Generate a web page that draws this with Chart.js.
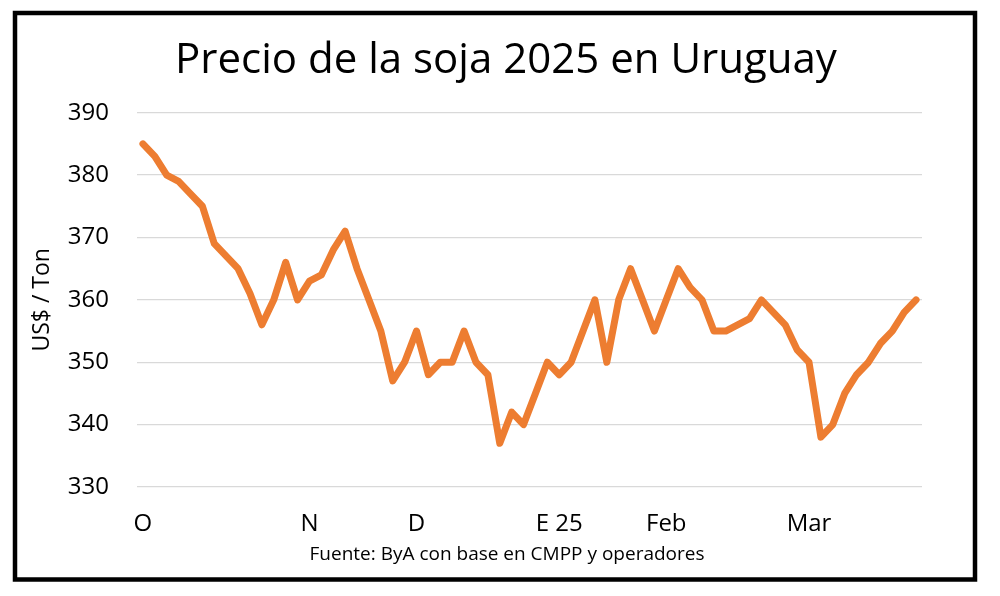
<!DOCTYPE html>
<html lang="es">
<head>
    <meta charset="UTF-8" />
    <title>Precio de la soja 2025 en Uruguay</title>
    <script src="https://cdn.jsdelivr.net/npm/chart.js"></script>
    <style>
        html, body { margin: 0; padding: 0; background: #fff; }
        #wrap { position: relative; width: 1000px; height: 596px; }
    </style>
</head>
<body>
    <div id="wrap"><canvas id="sojaChart"></canvas></div>

    <script>
        const prices = [
            385, 383, 380, 379, 377, 375, 369, 367, 365, 361,
            356, 360, 366, 360, 363, 364, 368, 371, 365, 360,
            355, 347, 350, 355, 348, 350, 350, 355, 350, 348,
            337, 342, 340, 345, 350, 348, 350, 355, 360, 350,
            360, 365, 360, 355, 360, 365, 362, 360, 355, 355,
            356, 357, 360, 358, 356, 352, 350, 338, 340, 345,
            348, 350, 353, 355, 358, 360
        ];
        const monthLabels = ['O', 'N', 'D', 'E 25', 'Feb', 'Mar'];
        const monthStart = [0, 14, 23, 35, 44, 56];
        const yTicks = [330, 340, 350, 360, 370, 380, 390];

        const chartTitle = 'Precio de la soja 2025 en Uruguay';
        const sourceNote = 'Fuente: ByA con base en CMPP y operadores';
        const yTitle = 'US$ / Ton';

        // category labels: blank except where a month starts
        const labels = prices.map((_, i) => {
            const k = monthStart.indexOf(i);
            return k >= 0 ? monthLabels[k] : '';
        });

        const FONT = "'Open Sans', 'DejaVu Sans', sans-serif";

        // title, footnote and frame drawn on the canvas
        const decorations = {
            id: 'decorations',
            afterDraw(chart) {
                const ctx = chart.ctx;
                ctx.save();
                ctx.fillStyle = '#000';
                ctx.textAlign = 'center';
                ctx.textBaseline = 'alphabetic';
                ctx.font = '42px ' + FONT;
                ctx.fillText(chartTitle, 506, 73);
                ctx.font = '19px ' + FONT;
                ctx.fillText(sourceNote, 507, 560);
                ctx.strokeStyle = '#000';
                ctx.lineWidth = 4.5;
                ctx.strokeRect(15, 13, 960, 566.5);
                ctx.restore();
            }
        };

        const ctx = document.getElementById('sojaChart').getContext('2d');
        new Chart(ctx, {
            type: 'line',
            data: {
                labels: labels,
                datasets: [{
                    data: prices,
                    borderColor: '#ED7D31',
                    borderWidth: 7,
                    pointRadius: 0,
                    tension: 0,
                    borderJoinStyle: 'round',
                    borderCapStyle: 'round',
                    fill: false
                }]
            },
            options: {
                responsive: true,
                maintainAspectRatio: false,
                animation: false,
                layout: { padding: { top: 112.7, right: 78, bottom: 49, left: 0 } },
                plugins: {
                    legend: { display: false },
                    tooltip: { enabled: false }
                },
                scales: {
                    x: {
                        offset: true,
                        grid: { display: false, drawTicks: false },
                        border: { display: false },
                        ticks: {
                            autoSkip: false,
                            maxRotation: 0,
                            padding: 23,
                            color: '#000',
                            font: { family: FONT, size: 24 }
                        },
                        afterFit(scale) { scale.height = 60; }
                    },
                    y: {
                        min: 330,
                        max: 390,
                        afterBuildTicks(scale) { scale.ticks = yTicks.map(v => ({ value: v })); },
                        grid: { color: '#d9d9d9', lineWidth: 1.3, drawTicks: false },
                        border: { display: false },
                        ticks: {
                            padding: 28,
                            color: '#000',
                            font: { family: FONT, size: 24 }
                        },
                        title: {
                            display: true,
                            text: yTitle,
                            color: '#000',
                            padding: { top: 29, bottom: 0 },
                            font: { family: FONT, size: 23 }
                        },
                        afterFit(scale) { scale.width = 137; }
                    }
                }
            },
            plugins: [decorations]
        });
    </script>
</body>
</html>
